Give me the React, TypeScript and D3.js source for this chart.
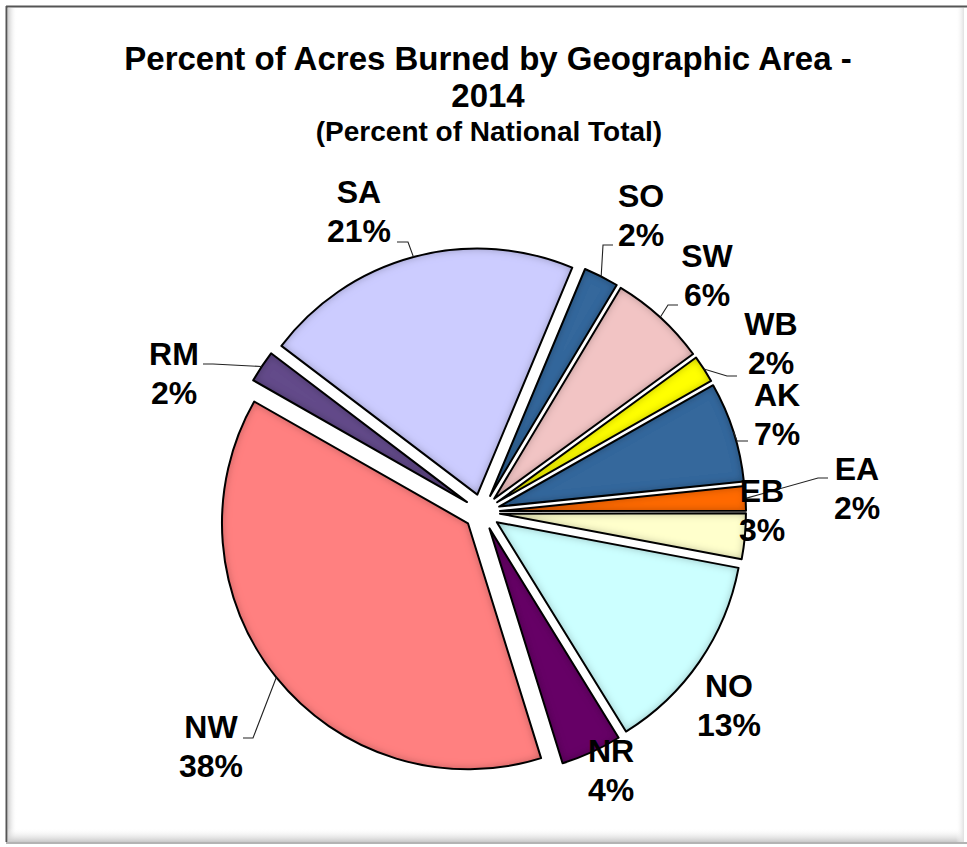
import React from 'react';
import * as d3 from 'd3';

// ---- data ----
const categories = ['SO', 'SW', 'WB', 'AK', 'EA', 'EB', 'NO', 'NR', 'NW', 'RM', 'SA'];
const values = [2.3, 6.4, 1.8, 6.6, 1.6, 3.0, 13.25, 4.0, 38.1, 2.1, 21.0];
const titleLines = ['Percent of Acres Burned by Geographic Area -', '2014'];
const subtitle = '(Percent of National Total)';

// ---- styles / layout ----
const colors: Record<string, string> = {
  SO: '#36679C', SW: '#F2C4C4', WB: '#FFFF00', AK: '#36679C', EA: '#FF6A00', EB: '#FFFFCC',
  NO: '#CCFFFF', NR: '#660066', NW: '#FF8080', RM: '#634C8A', SA: '#CCCCFF',
};
const labelPos: Record<string, [number, number]> = {
  SO: [641, 207], SW: [707, 267], WB: [771, 335], AK: [777, 406], EA: [857, 480], EB: [762, 502],
  NO: [729, 697], NR: [611, 762], NW: [211, 738], RM: [174, 365], SA: [359, 203],
};
// label-side leader points (start, elbow); end point comes from slice geometry
const leaderPts: Record<string, [number, number][]> = {
  SA: [[397, 242], [408, 242]],
  SO: [[613, 245], [603, 245]],
  SW: [[678, 305], [668, 305]],
  WB: [[737, 376], [727, 376]],
  AK: [[748, 441], [737, 441]],
  EA: [[828, 478], [818, 478]],
  NW: [[243, 738], [253, 738]],
  RM: [[203, 364], [213, 364]],
};

const W = 967, H = 847;
const cx = 482, cy = 512, R = 246, EXPLODE = 18;
const START = (22.7 * Math.PI) / 180;
const FONT = '"Liberation Sans", Arial, sans-serif';

export default function App() {
  const total = d3.sum(values);
  const data = categories.map((c, i) => ({ name: c, value: values[i] }));
  const pie = d3.pie<any>().sort(null).value((d: any) => d.value).startAngle(START).endAngle(START + 2 * Math.PI);
  const arcs = pie(data);
  const arcGen = d3.arc<any>().innerRadius(0).outerRadius(R);

  return (
    <svg width={W} height={H} style={{ position: 'absolute', left: 0, top: 0, background: '#fff' }}>
      <defs>
        <filter id="bevel" x="-10%" y="-10%" width="120%" height="120%">
          <feGaussianBlur in="SourceAlpha" stdDeviation="4" result="blur" />
          <feComposite in="SourceAlpha" in2="blur" operator="arithmetic" k2="1" k3="-1" result="edge" />
          <feFlood floodColor="#000" floodOpacity="0.6" />
          <feComposite in2="edge" operator="in" result="shadow" />
          <feMerge>
            <feMergeNode in="SourceGraphic" />
            <feMergeNode in="shadow" />
          </feMerge>
        </filter>
        <linearGradient id="leftShade" x1="0" x2="1" y1="0" y2="0">
          <stop offset="0" stopColor="#cfcfcf" />
          <stop offset="1" stopColor="#ffffff" stopOpacity="0" />
        </linearGradient>
        <linearGradient id="bottomShade" x1="0" x2="0" y1="0" y2="1">
          <stop offset="0" stopColor="#ffffff" stopOpacity="0" />
          <stop offset="1" stopColor="#c8c8c8" />
        </linearGradient>
        <linearGradient id="rightShade" x1="0" x2="1" y1="0" y2="0">
          <stop offset="0" stopColor="#ffffff" stopOpacity="0" />
          <stop offset="1" stopColor="#e0e0e0" />
        </linearGradient>
      </defs>

      {/* frame */}
      <rect x={0} y={0} width={W} height={H} fill="#fff" />
      <rect x={8} y={8} width={9} height={832} fill="url(#leftShade)" />
      <rect x={8} y={828} width={956} height={14} fill="url(#bottomShade)" />
      <rect x={956} y={8} width={8} height={834} fill="url(#rightShade)" />
      <line x1={6} y1={6.5} x2={W} y2={6.5} stroke="#555" strokeWidth={2} />
      <line x1={6.5} y1={6} x2={6.5} y2={842} stroke="#555" strokeWidth={2} />
      <line x1={6} y1={843} x2={W} y2={843} stroke="#9a9a9a" strokeWidth={1.5} />

      {/* title */}
      <text x={488} y={70} textAnchor="middle" fontFamily={FONT} fontWeight="bold" fontSize={33}>{titleLines[0]}</text>
      <text x={488} y={107} textAnchor="middle" fontFamily={FONT} fontWeight="bold" fontSize={33}>{titleLines[1]}</text>
      <text x={489} y={141} textAnchor="middle" fontFamily={FONT} fontWeight="bold" fontSize={28}>{subtitle}</text>

      {/* slices */}
      {arcs.map((a: any) => {
        const mid = (a.startAngle + a.endAngle) / 2;
        const dx = EXPLODE * Math.sin(mid), dy = -EXPLODE * Math.cos(mid);
        return (
          <g key={a.data.name} transform={`translate(${cx + dx},${cy + dy})`}>
            <path d={arcGen(a) as string} fill={colors[a.data.name]} filter="url(#bevel)" />
            <path d={arcGen(a) as string} fill="none" stroke="#000" strokeWidth={2} strokeLinejoin="round" />
          </g>
        );
      })}

      {/* leaders */}
      {arcs.map((a: any) => {
        const pts = leaderPts[a.data.name];
        if (!pts) return null;
        const mid = (a.startAngle + a.endAngle) / 2;
        const ex = cx + (EXPLODE + R) * Math.sin(mid);
        const ey = cy - (EXPLODE + R) * Math.cos(mid);
        const line = d3.line()([...pts, [ex, ey]] as [number, number][]);
        return <path key={'l' + a.data.name} d={line as string} fill="none" stroke="#222" strokeWidth={1.1} />;
      })}

      {/* labels */}
      {arcs.map((a: any) => {
        const [lx, ly] = labelPos[a.data.name];
        const pct = Math.round((a.data.value / total) * 100) + '%';
        return (
          <text key={'t' + a.data.name} textAnchor="middle" fontFamily={FONT} fontWeight="bold" fontSize={32} fill="#000">
            <tspan x={lx} y={ly}>{a.data.name}</tspan>
            <tspan x={lx} y={ly + 39}>{pct}</tspan>
          </text>
        );
      })}
    </svg>
  );
}
